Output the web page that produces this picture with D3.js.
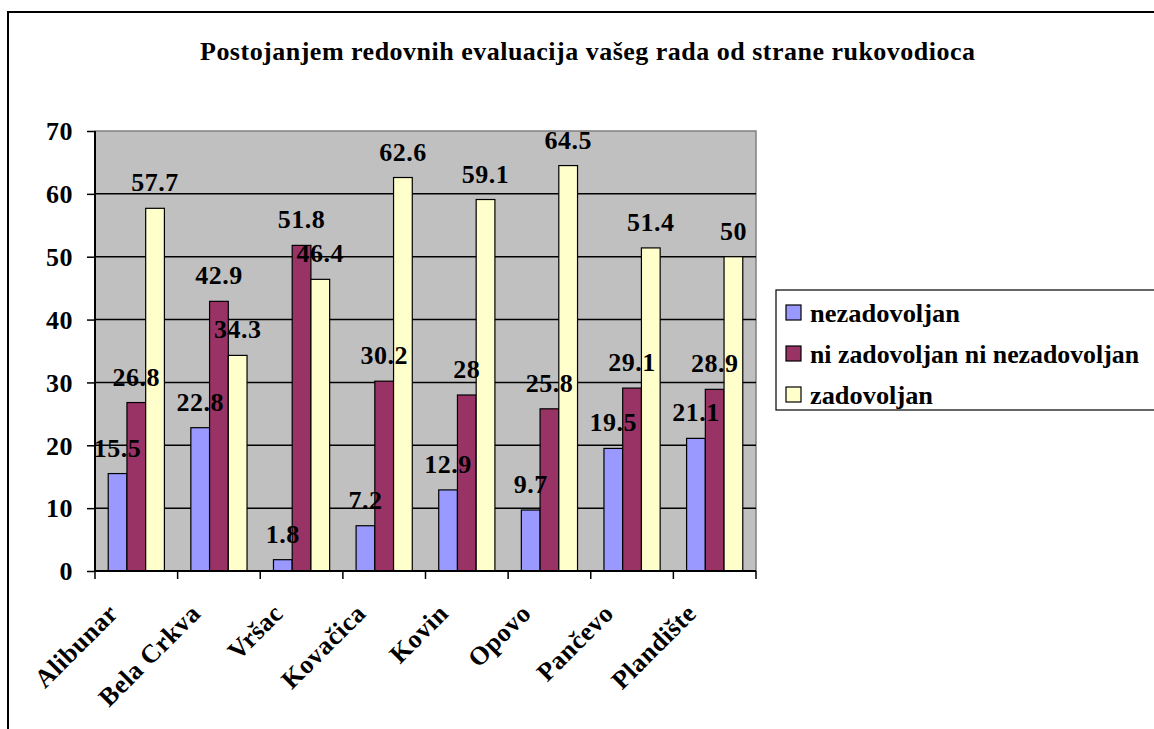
<!DOCTYPE html>
<html><head><meta charset="utf-8">
<script src="https://cdn.jsdelivr.net/npm/d3@7"></script>
<style>body{margin:0;background:#fff}svg{display:block}</style>
</head><body>
<svg id="c" width="1154" height="729" font-family="Liberation Serif" font-weight="bold"></svg>
<script>
const title = "Postojanjem redovnih evaluacija vašeg rada od strane rukovodioca";
const categories = ["Alibunar","Bela Crkva","Vršac","Kovačica","Kovin","Opovo","Pančevo","Plandište"];
const seriesNames = ["nezadovoljan","ni zadovoljan ni nezadovoljan","zadovoljan"];
const nezadovoljan = [15.5,22.8,1.8,7.2,12.9,9.7,19.5,21.1];
const niZadNiNezad = [26.8,42.9,51.8,30.2,28,25.8,29.1,28.9];
const zadovoljan = [57.7,34.3,46.4,62.6,59.1,64.5,51.4,50];
const yTicks = [0,10,20,30,40,50,60,70];
const colors = ["#9999FF","#993366","#FFFFCC"];

const FONT = "Liberation Serif";
const FS = 26, LS = 0.5;
const series = [nezadovoljan, niZadNiNezad, zadovoljan];
const svg = d3.select("#c");
const L=95, R=756, T=131, B=571;

function txt(sel){ return sel.attr("font-family",FONT).attr("font-weight","bold").attr("fill","#000")
  .attr("font-size",FS).attr("letter-spacing",LS); }

// outer frame
svg.append("rect").attr("x",8).attr("y",12).attr("width",1160).attr("height",730)
  .attr("fill","none").attr("stroke","#000").attr("stroke-width",2);

txt(svg.append("text")).attr("x",200).attr("y",60)
  .attr("textLength",775).attr("lengthAdjust","spacing").attr("letter-spacing",0).text(title);

const x0 = d3.scaleBand().domain(categories).range([L,R]).paddingInner(0.32).paddingOuter(0.16);
const x1 = d3.scaleBand().domain(d3.range(3)).range([0,x0.bandwidth()]);
const y = d3.scaleLinear().domain([0,70]).range([B,T]);

svg.append("rect").attr("x",L).attr("y",T).attr("width",R-L).attr("height",B-T)
  .attr("fill","#C0C0C0").attr("stroke","#808080").attr("stroke-width",1.5);

svg.append("g").selectAll("line").data(yTicks.slice(1,-1)).join("line")
  .attr("x1",L).attr("x2",R).attr("y1",d=>y(d)).attr("y2",d=>y(d))
  .attr("stroke","#000").attr("stroke-width",1.5);

const groups = svg.append("g").selectAll("g").data(categories).join("g")
  .attr("transform",d=>`translate(${x0(d)},0)`);
groups.selectAll("rect").data((d,i)=>series.map((s,j)=>({j,v:s[i]}))).join("rect")
  .attr("x",d=>x1(d.j)).attr("width",x1.bandwidth())
  .attr("y",d=>y(d.v)).attr("height",d=>B-y(d.v))
  .attr("fill",d=>colors[d.j]).attr("stroke","#000").attr("stroke-width",1.2);

// y axis
const yAxis = d3.axisLeft(y).tickValues(yTicks).tickSize(8).tickPadding(14).tickFormat(d3.format("d"));
const ya = svg.append("g").attr("transform",`translate(${L},0)`).call(yAxis)
  .attr("font-family",FONT).attr("font-size",FS);
ya.select(".domain").attr("stroke","#000").attr("stroke-width",2).attr("d",`M0,${T}V${B}`);
ya.selectAll(".tick line").attr("stroke","#000").attr("stroke-width",1.5);
txt(ya.selectAll("text")).attr("dy","0.34em");

// x axis
const xTickPos = d3.range(categories.length+1).map(i=>L+i*(R-L)/categories.length);
svg.append("line").attr("x1",L).attr("x2",R).attr("y1",B).attr("y2",B).attr("stroke","#000").attr("stroke-width",2);
svg.append("g").selectAll("line").data(xTickPos).join("line")
  .attr("x1",d=>d).attr("x2",d=>d).attr("y1",B).attr("y2",B+8).attr("stroke","#000").attr("stroke-width",1.5);
txt(svg.append("g").selectAll("text").data(categories).join("text"))
  .attr("text-anchor","end")
  .attr("transform",d=>`translate(${x0(d)+x0.bandwidth()/2-17},${B+44}) rotate(-45)`)
  .text(d=>d);

// data labels
txt(groups.selectAll("text").data((d,i)=>series.map((s,j)=>({j,v:s[i]}))).join("text"))
  .attr("text-anchor","middle")
  .attr("x",d=>x1(d.j)+x1.bandwidth()/2).attr("y",d=>y(d.v)-17)
  .text(d=>d.v);

// legend
const legendWidths = [150,329,123];
const lg = svg.append("g");
lg.append("rect").attr("x",776).attr("y",290).attr("width",400).attr("height",120)
  .attr("fill","#fff").attr("stroke","#000").attr("stroke-width",1.2);
const rows = lg.selectAll("g").data(seriesNames).join("g")
  .attr("transform",(d,i)=>`translate(786,${313+i*41})`);
rows.append("rect").attr("x",0).attr("y",-8).attr("width",15).attr("height",15)
  .attr("fill",(d,i)=>colors[i]).attr("stroke","#000").attr("stroke-width",1.2);
txt(rows.append("text")).attr("x",24).attr("y",9).attr("letter-spacing",0)
  .attr("textLength",(d,i)=>legendWidths[i]).attr("lengthAdjust","spacingAndGlyphs").text(d=>d);
</script>
</body></html>
